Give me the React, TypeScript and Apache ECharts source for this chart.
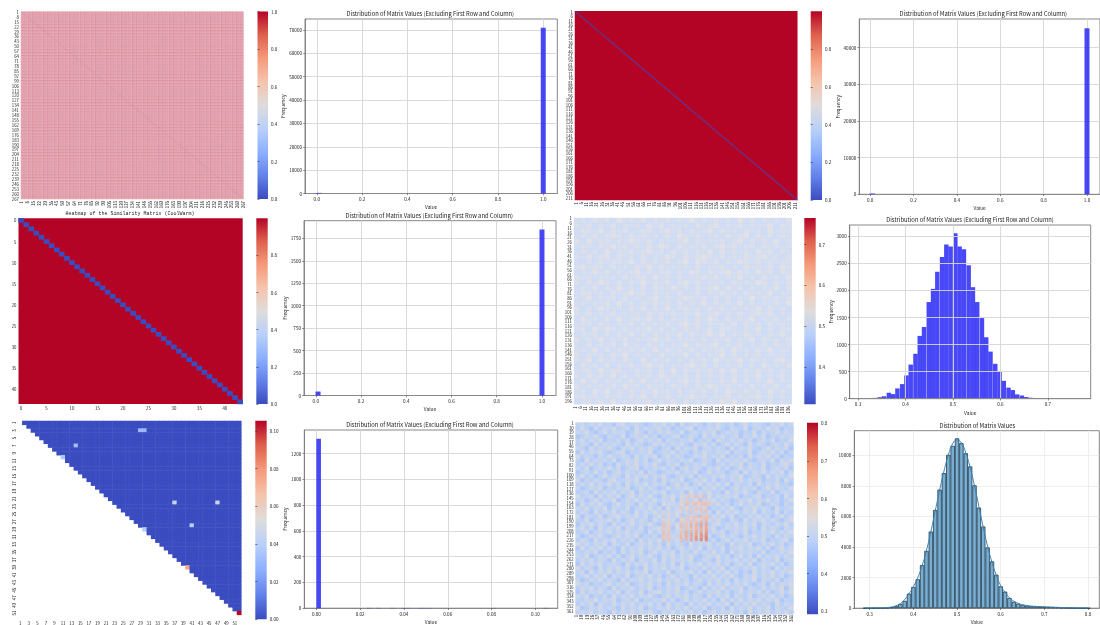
import React, { useEffect, useRef } from "react";
import * as echarts from "echarts";

const coolwarm = ["#3b4cc0", "#6282ea", "#8db0fe", "#b9d0f9", "#dedcdb", "#f5c4ac", "#f49a7b", "#de614d", "#b40426"];
const histTitle = "Distribution of Matrix Values (Excluding First Row and Column)";

// histogram values: [bin centre, count]
const histA = [[0.0101, 267], [1.0, 71000]];
const histB = [[0.0101, 212], [1.0, 45300]];
const histC = [[0.0101, 44], [1.0, 1850]];
const histF = [[0.00105, 1316], [0.0242, 2], [0.0284, 2], [0.0347, 2], [0.0399, 2], [0.042, 2], [0.0473, 2], [0.0494, 2], [0.0515, 2], [0.0809, 2], [0.1049, 2]];
const histDCounts = [3, 6, 10, 15, 28, 45, 110, 85, 190, 270, 430, 630, 830, 1160, 1325, 1785, 2030, 2345, 2620, 2850, 2810, 3055, 2810, 2760, 2465, 2060, 1785, 1490, 1135, 870, 645, 500, 330, 205, 160, 80, 60, 30, 18, 10, 6, 5, 4, 3, 3, 4, 3, 2, 3, 2];
const histDCentres = [0.309, 0.318, 0.327, 0.337, 0.346, 0.355, 0.365, 0.374, 0.383, 0.393, 0.402, 0.411, 0.421, 0.43, 0.439, 0.449, 0.458, 0.467, 0.477, 0.486, 0.495, 0.505, 0.514, 0.523, 0.533, 0.542, 0.551, 0.561, 0.57, 0.579, 0.589, 0.598, 0.607, 0.617, 0.626, 0.635, 0.645, 0.654, 0.663, 0.673, 0.682, 0.691, 0.701, 0.71, 0.719, 0.729, 0.738, 0.747, 0.757, 0.766];
const histGCentres = [0.29, 0.3, 0.31, 0.32, 0.33, 0.34, 0.35, 0.36, 0.37, 0.38, 0.39, 0.4, 0.41, 0.42, 0.43, 0.44, 0.45, 0.46, 0.47, 0.48, 0.49, 0.5, 0.51, 0.52, 0.53, 0.54, 0.55, 0.56, 0.57, 0.58, 0.59, 0.6, 0.61, 0.62, 0.63, 0.64, 0.65, 0.66, 0.67, 0.68, 0.69, 0.7, 0.71, 0.72, 0.73, 0.74, 0.75, 0.76, 0.77, 0.78, 0.79, 0.8];
const histGCounts = [3, 5, 8, 12, 20, 35, 70, 130, 280, 480, 955, 1390, 1890, 2820, 3750, 5010, 6420, 7750, 8830, 10025, 10610, 11100, 10785, 10130, 9265, 8030, 6575, 5340, 3970, 3060, 2190, 1430, 1085, 670, 420, 300, 220, 170, 130, 130, 110, 100, 80, 70, 60, 45, 35, 25, 15, 8, 5, 3];
const kdeG = [4, 6, 10, 16, 26, 42, 80, 160, 300, 560, 950, 1420, 2000, 2780, 3780, 5000, 6350, 7700, 8950, 10000, 10750, 11000, 10800, 10150, 9200, 8000, 6650, 5300, 4050, 3000, 2150, 1480, 1030, 690, 460, 320, 230, 175, 140, 120, 105, 92, 80, 68, 56, 44, 34, 24, 15, 9, 5, 3];

// tick values
const unitTicks = [0, 0.2, 0.4, 0.6, 0.8, 1];
const histAY = [0, 10000, 20000, 30000, 40000, 50000, 60000, 70000];
const histBY = [0, 10000, 20000, 30000, 40000];
const histCY = [0, 250, 500, 750, 1000, 1250, 1500, 1750];
const histDX = [0.3, 0.4, 0.5, 0.6, 0.7];
const histDY = [0, 500, 1000, 1500, 2000, 2500, 3000];
const histFX = [0, 0.02, 0.04, 0.06, 0.08, 0.1];
const histFY = [0, 200, 400, 600, 800, 1000, 1200];
const histGX = [0.3, 0.4, 0.5, 0.6, 0.7, 0.8];
const histGY = [0, 2000, 4000, 6000, 8000, 10000];
const barE = [0, 0.02, 0.04, 0.06, 0.08, 0.1];
const barD = [0.4, 0.5, 0.6, 0.7];
const barH = [0.3, 0.4, 0.5, 0.6, 0.7, 0.8];

// matrix E: non-zero cells of the upper triangle [row, col, value]
const triangleSpots = [[2, 28, 0.03], [2, 29, 0.03], [6, 13, 0.032], [9, 10, 0.036], [21, 36, 0.045], [21, 46, 0.045], [27, 40, 0.04], [28, 29, 0.038], [38, 39, 0.075], [50, 51, 0.105]];

// matrix D, block averages read by eye; digit d stands for 0.45 + d * 0.0105
const textureD = [
  "564756485657465746585647564857465647",
  "657465746564857465647568465746558476",
  "476584657456746857465684756475648566",
  "565746864756564748657456475684756475",
  "748567465865746556847565746847565846",
  "566475857464758647565746857466475656",
  "475648465756856475746584756564857465",
  "657568475647465864756865746475685647",
  "546475665847565746848657465865746566",
  "685764756475847565647465746475657486",
  "465857465684756746586475685764856475",
  "756465647567485647456757465846475648",
  "647586474658565746857465647565874656",
  "565746585647476585647568475746465847",
  "476564756857465647457465856475658465",
  "658475647465684756865746474658475656",
  "564657485746575647465847565847465748",
  "746586564758465846756475746565847564",
  "657465746564756574658467565746758465",
  "485647584675847465647586474658465746",
  "566475465746565746857465658475647565",
  "674858647565847564756474765465847466",
  "465746475846474658475685846575646585",
  "756584657465685746564746574658475647",
  "647465748564756465847568465746564756",
  "565847465657484756574656748564758465",
  "746564758465647565847465847465746564",
  "658475647548565746465748565847564785",
  "475647465746857465685647465746485657",
  "566485674565647484756574858465756465",
  "647565847465748565647465647565846574",
  "485746564758465746857464758474658465",
  "756465748564756475647586565647465746",
  "564858465746585647465747486575648565",
  "675647564758465746585646574656847464",
  "466574846565746584756475868475657465"
];

// matrix G, block averages read by eye; digit d stands for 0.44 + d * 0.0145
const textureG = [
  "453546342563454235463526345425364352463543254635",
  "364253546345263544635243562435463254362453645243",
  "546324635452364253546436245354623545243625346354",
  "235463254362454635243562354263546345254636243545",
  "463546243535246354625435462435264354635245362436",
  "354263545426354236453546325463524635426354245363",
  "542635463254635463245263546245354263546324635452",
  "263546324562435462354635425364354625436245463524",
  "635425364354263546246354235463546243526354635243",
  "426354536245463524635435462354263545463245362546",
  "354635242635463546325462435463245354625436243563",
  "536245463524562435463524635425463524635436245352",
  "245363524635436254235463546236354245263546354625",
  "463524635426354635463245362543546354623542635436",
  "624354256345462435263546235463524354635462435263",
  "354635463526354635452463524635463625435263546342",
  "523546243546236354236354654254635246354524635436",
  "345263546354625435462435263546342635463254362454",
  "634526354624635463254635463526354546243562435263",
  "452463546235463546354625436245635423546354635246",
  "263546324635426354263546354635463524635462354253",
  "546354625436245463526354635462435463254635426345",
  "354263546354263546435463524635263546354625436253",
  "625436245635463524635462354263546362435463524635",
  "436245463524635426354526354635463254263546354246",
  "254635426354635463245463546243563546354625435463",
  "463526354625436245635263546354623545463526354254",
  "346245463546354263546354235463546245362435463546",
  "523546324635462435263546354635246354254635426354",
  "354263546354526354635462435463524635463546243562",
  "645354625436245463526354263546354263546235463524",
  "263546354263546354635246354625436245635463524635",
  "435462435263546246354625436354635263545436243546",
  "546235463524635463254635463245463524635263546354",
  "354635426354625436263545462354263546354625436245",
  "263546345426354635453626354635463524636245463524",
  "635426354635242635463546245363546254354635426354",
  "452635463546354625436245463526354635242635463546",
  "346354625436245463524635426354635463254635463524",
  "523546354263546354635463524635463526354625436245",
  "645243563546235463526354635426354635463245263546",
  "354635426354635462435462354263546354625436354625",
  "263546354625436245635463524635463524635463524636",
  "546243526354635463246354635426354625436245463524",
  "435463546245362435463524635463526354635463546243",
  "354625436354635463526354263546354625354635426354",
  "623546354263546243546354635462435263546354625436",
  "454635426354635463254635463524635463526354635463"
];

// block at the centre of matrix G; digit d stands for 0.5 + d * 0.024, "." leaves the block below
const hotBlockG = [
  "........3.35.45.45..",
  "....................",
  "........3.4..4.5.4.4",
  ".2.2....3.55.5545555",
  "....................",
  "........4.4.4.5.5.5.",
  ".3......3...4.4.5.5.",
  ".3.3................",
  "........4.45.55.5555",
  ".3.3.....3..4.4.4.5.",
  ".4.3....4.4.5.5.6.6.",
  ".5.4....5.5.6.6.7.7.",
  ".5.4....5.5.6.6.7.7.",
  ".4.4....4.5.5.6.6.7.",
  ".5.5....5.6.6.7.7.8.",
  ".5.5....5.6.7.7.8.8.",
  ".5.4....6.6.7.8.8.9.",
  ".5.5....5.6.7.8.9.9."
];

const MONO = "Liberation Mono";
const CJK = "Noto Sans CJK SC";
const seqFrom = (n: number, base: number) => Array.from({ length: n }, (_, i) => String(i + base));

function build() {
  const grid: any[] = [], xAxis: any[] = [], yAxis: any[] = [], series: any[] = [], visualMap: any[] = [], title: any[] = [], graphic: any[] = [];

  const pair = (r: number[], x: any, y: any) => {
    grid.push({ left: r[0], top: r[1], width: r[2] - r[0], height: r[3] - r[1], containLabel: false, ...(x.gridStyle || {}) });
    const g = grid.length - 1;
    xAxis.push({ gridIndex: g, ...x, gridStyle: undefined });
    yAxis.push({ gridIndex: g, ...y });
    return { g, x: xAxis.length - 1, y: yAxis.length - 1 };
  };

  const addTitle = (text: string, cx: number, cy: number, size: number, family = CJK) =>
    title.push({ text, left: cx, top: cy, textAlign: "center", textVerticalAlign: "middle", padding: 0, textStyle: { fontFamily: family, fontSize: size, fontWeight: "normal", color: "#222" } });

  const colorbar = (r: number[], min: number, max: number, ticks: number[], digits: number, seriesIndex: number[]) => {
    visualMap.push({ type: "continuous", show: false, min, max, seriesIndex, inRange: { color: coolwarm } });
    graphic.push({
      type: "rect", silent: true, shape: { x: r[0], y: r[1], width: r[2] - r[0], height: r[3] - r[1] },
      style: { fill: new echarts.graphic.LinearGradient(0, 1, 0, 0, coolwarm.map((color, i) => ({ offset: i / (coolwarm.length - 1), color }))) }
    });
    pair(r, { type: "value", min: 0, max: 1, show: false }, {
      type: "value", min, max, position: "right", axisLine: { show: false }, splitLine: { show: false },
      axisTick: { length: 2, customValues: ticks, lineStyle: { color: "#333", width: 0.6 } },
      axisLabel: { customValues: ticks, fontSize: 4.6, margin: 3, color: "#222", fontFamily: CJK, formatter: (v: number) => v.toFixed(digits) }
    });
  };

  const catAxis = (labels: string[], step: number, rotate: number, extra: any = {}) => ({
    type: "category", data: labels, boundaryGap: true, axisLine: { show: false },
    axisTick: { length: 1.5, interval: step - 1, alignWithLabel: true, lineStyle: { color: "#333", width: 0.5 } },
    axisLabel: { interval: step - 1, rotate, fontSize: 4.3, margin: 2, color: "#222", fontFamily: CJK },
    splitLine: { show: false }, ...extra
  });

  const hiddenCat = (n: number, inverse = false) => ({ type: "category", data: seqFrom(n, 0), show: false, inverse });

  const heat = (a: any, data: any[], itemStyle: any = {}) => {
    series.push({ type: "heatmap", xAxisIndex: a.x, yAxisIndex: a.y, data, progressive: 0, silent: true, itemStyle, emphasis: { disabled: true } });
    return series.length - 1;
  };

  const hist = (r: number[], xr: number[], ymax: number, xt: number[], yt: number[], xd: number, nameGap: number, data: any[], barPx: number, opts: any = {}) => {
    const gridLine = { show: true, lineStyle: { color: opts.gridColor || "#d6d6d6", width: 0.9 } };
    const name = { fontSize: 4.8, fontFamily: CJK, color: "#222" };
    const a = pair(r, {
      type: "value", min: xr[0], max: xr[1], name: "Value", nameLocation: "middle", nameGap: 11, nameTextStyle: name,
      axisLine: { onZero: false, lineStyle: { color: "#777", width: 0.8 } },
      axisTick: { length: 1.8, customValues: xt, lineStyle: { color: "#444", width: 0.6 } },
      axisLabel: { customValues: xt, fontSize: 4.6, margin: 3, color: "#222", fontFamily: CJK, formatter: (v: number) => v.toFixed(xd) },
      splitLine: gridLine, z: opts.over ? 5 : 0,
      gridStyle: { show: true, borderColor: "#888", borderWidth: 1, backgroundColor: "#fff" }
    }, {
      type: "value", min: 0, max: ymax, name: "Frequency", nameLocation: "middle", nameGap, nameRotate: 90, nameTextStyle: name,
      axisLine: { onZero: false, lineStyle: { color: "#777", width: 0.8 } },
      axisTick: { length: 1.8, customValues: yt, lineStyle: { color: "#444", width: 0.6 } },
      axisLabel: { customValues: yt, fontSize: 4.6, margin: 3, color: "#222", fontFamily: CJK, formatter: (v: number) => String(v) },
      splitLine: gridLine, z: opts.over ? 5 : 0
    });
    series.push({ type: "bar", xAxisIndex: a.x, yAxisIndex: a.y, data, barWidth: barPx, silent: true, itemStyle: opts.barStyle || { color: "rgba(40,40,245,0.85)" } });
    return a;
  };

  // --- top left: matrix A, every cell 1.0 under fine white lines ---
  const A = [21, 11.5, 243.5, 199];
  const aAxes = pair(A, catAxis(seqFrom(267, 1), 7, 90), catAxis(seqFrom(267, 1), 7, 0, { inverse: true }));
  const aBlocks: number[][] = [];
  const aBlockCount = 60;
  for (let i = 0; i < aBlockCount; i++) for (let j = 0; j < aBlockCount; j++) aBlocks.push([i, j, 1]);
  const aCover = pair(A, hiddenCat(aBlockCount), hiddenCat(aBlockCount, true));
  const s1 = heat(aCover, aBlocks, { borderColor: "#fff", borderWidth: 0.5, opacity: 0.37 });
  const s1d = heat(aAxes, seqFrom(267, 0).map((v) => [+v, +v, 0]), { opacity: 0.035 });
  colorbar([257.5, 11.5, 268, 199], 0, 1, unitTicks, 1, [s1, s1d]);
  addTitle("Heatmap of the Similarity Matrix (CoolWarm)", 130, 214, 5, MONO);

  hist([305, 19, 557.3, 193.5], [-0.052, 1.062], 74700, unitTicks, histAY, 1, 19, histA, 5);
  addTitle(histTitle, 430.3, 13.5, 5.8);

  // --- top middle: matrix B, red with a diagonal ---
  const B = [575, 11.3, 797.3, 200];
  const bAxes = pair(B, catAxis(seqFrom(213, 1), 5, 90), catAxis(seqFrom(213, 1), 5, 0, { inverse: true }));
  const bCover = pair(B, hiddenCat(1), hiddenCat(1, true));
  const s2 = heat(bCover, [[0, 0, 1]]);
  const s2d = heat(bAxes, seqFrom(213, 0).map((v) => [+v, +v, 0]), { opacity: 0.6 });
  colorbar([810.7, 11.3, 822, 200], 0, 1, [0, 0.2, 0.4, 0.6, 0.8], 1, [s2, s2d]);

  hist([859.3, 19, 1109, 194.3], [-0.05, 1.06], 47800, unitTicks, histBY, 1, 17.6, histB, 5);
  addTitle(histTitle, 983.3, 13.3, 5.8);

  // --- middle left: matrix C, 44 cells ---
  const C = [18.5, 218.3, 242.7, 404];
  const cLabels = seqFrom(44, 0);
  const cAxes = pair(C, { ...catAxis(cLabels, 5, 0), gridStyle: { show: true, borderWidth: 0, backgroundColor: "#b40426" } }, catAxis(cLabels, 5, 0, { inverse: true }));
  const cCells: number[][] = [];
  cLabels.forEach((_, i) => cLabels.forEach((_, j) => { if (i === j) cCells.push([i, j, 0]); }));
  const s3 = heat(cAxes, cCells);
  colorbar([256.3, 218.3, 267.7, 404], 0, 1, [0, 0.2, 0.4, 0.6, 0.8], 1, [s3]);

  hist([304, 220.7, 556, 395.5], [-0.052, 1.062], 1947, unitTicks, histCY, 1, 16, histC, 5);
  addTitle(histTitle, 429.3, 215, 5.8);

  // --- middle right: matrix D ---
  const D = [574, 218, 791.7, 404.3];
  pair(D, catAxis(seqFrom(199, 1), 5, 90), catAxis(seqFrom(199, 1), 5, 0, { inverse: true }));
  const dBlocks: number[][] = [];
  textureD.forEach((row, j) => row.split("").forEach((c, i) => dBlocks.push([i, j, 0.45 + +c * 0.0105])));
  const dCover = pair(D, { ...hiddenCat(textureD[0].length), gridStyle: { show: true, borderWidth: 0, backgroundColor: "#e6ecfa" } }, hiddenCat(textureD.length, true));
  const s4 = heat(dCover, dBlocks, { opacity: 0.6 });
  colorbar([804.3, 218, 815.7, 404.3], 0.3086, 0.7654, barD, 1, [s4]);

  hist([849.7, 225, 1090.7, 398.7], [0.2825, 0.79], 3209, histDX, histDY, 1, 15, histDCentres.map((c, i) => [c, histDCounts[i]]), 4.45, { over: true });
  addTitle(histTitle, 970, 219.7, 5.8);

  // --- bottom left: matrix E, upper triangle ---
  const E = [18, 421, 241.3, 619];
  const eLabels = seqFrom(52, 1);
  const eAxes = pair(E, catAxis(eLabels, 2, 0), catAxis(eLabels, 2, 90, { inverse: true }));
  const eCells: number[][] = [];
  const spot = (r: number, c: number) => { const f = triangleSpots.find((s) => s[0] === r && s[1] === c); return f ? f[2] : 0; };
  for (let r = 0; r < 52; r++) for (let c = r + 1; c < 52; c++) eCells.push([c, r, spot(r, c)]);
  const s5 = heat(eAxes, eCells);
  colorbar([255.3, 420.7, 266.7, 619.3], 0, 0.1055, barE, 2, [s5]);

  hist([304.3, 430, 557.7, 610.3], [-0.0055, 0.1102], 1384, histFX, histFY, 2, 17.3, histF, 4.6);
  addTitle(histTitle, 430, 424.7, 5.8);

  // --- bottom middle: matrix G ---
  const G = [575.7, 422.7, 793.3, 614.3];
  pair(G, catAxis(seqFrom(365, 1), 9, 90), catAxis(seqFrom(365, 1), 9, 0, { inverse: true }));
  const gBlocks: number[][] = [];
  textureG.forEach((row, j) => row.split("").forEach((c, i) => gBlocks.push([i, j, 0.44 + +c * 0.0145])));
  const gCover = pair(G, { ...hiddenCat(textureG[0].length), gridStyle: { show: true, borderWidth: 0, backgroundColor: "#c4d2ee" } }, hiddenCat(textureG.length, true));
  const s6 = heat(gCover, gBlocks);
  const hotCells: number[][] = [];
  hotBlockG.forEach((row, j) => row.split("").forEach((c, i) => { if (c !== ".") hotCells.push([i, j, 0.5 + +c * 0.024]); }));
  const hot = pair([660, 495, 710, 541], hiddenCat(hotBlockG[0].length), hiddenCat(hotBlockG.length, true));
  const s6h = heat(hot, hotCells, { opacity: 0.75 });
  colorbar([807, 422.7, 818, 614.3], 0.292, 0.8017, barH, 1, [s6, s6h]);

  // --- bottom right: plain histogram with a density line ---
  const gA = hist([854.3, 430.7, 1099.3, 609], [0.2647, 0.8258], 11600, histGX, histGY, 1, 17.3, histGCentres.map((c, i) => [c, histGCounts[i]]), 4.37, {
    gridColor: "#ececec",
    barStyle: { color: "#79aed2", borderColor: "#1e3c52", borderWidth: 0.8 }
  });
  series.push({
    type: "line", xAxisIndex: gA.x, yAxisIndex: gA.y, smooth: true, showSymbol: false, silent: true,
    data: histGCentres.map((c, i) => [c, kdeG[i]]), lineStyle: { color: "#3f7fae", width: 1 }, z: 3
  });
  addTitle("Distribution of Matrix Values", 977.3, 425.3, 5.8);

  return { animation: false, backgroundColor: "#fff", title, grid, xAxis, yAxis, series, visualMap, graphic };
}

export default function App() {
  const ref = useRef<HTMLDivElement>(null);
  useEffect(() => {
    document.body.style.margin = "0";
    const chart = echarts.init(ref.current!, undefined, { renderer: "svg" });
    chart.setOption(build() as any);
    return () => chart.dispose();
  }, []);
  return <div ref={ref} style={{ position: "fixed", left: 0, top: 0, width: 1100, height: 625, filter: "blur(0.45px)" }} />;
}
